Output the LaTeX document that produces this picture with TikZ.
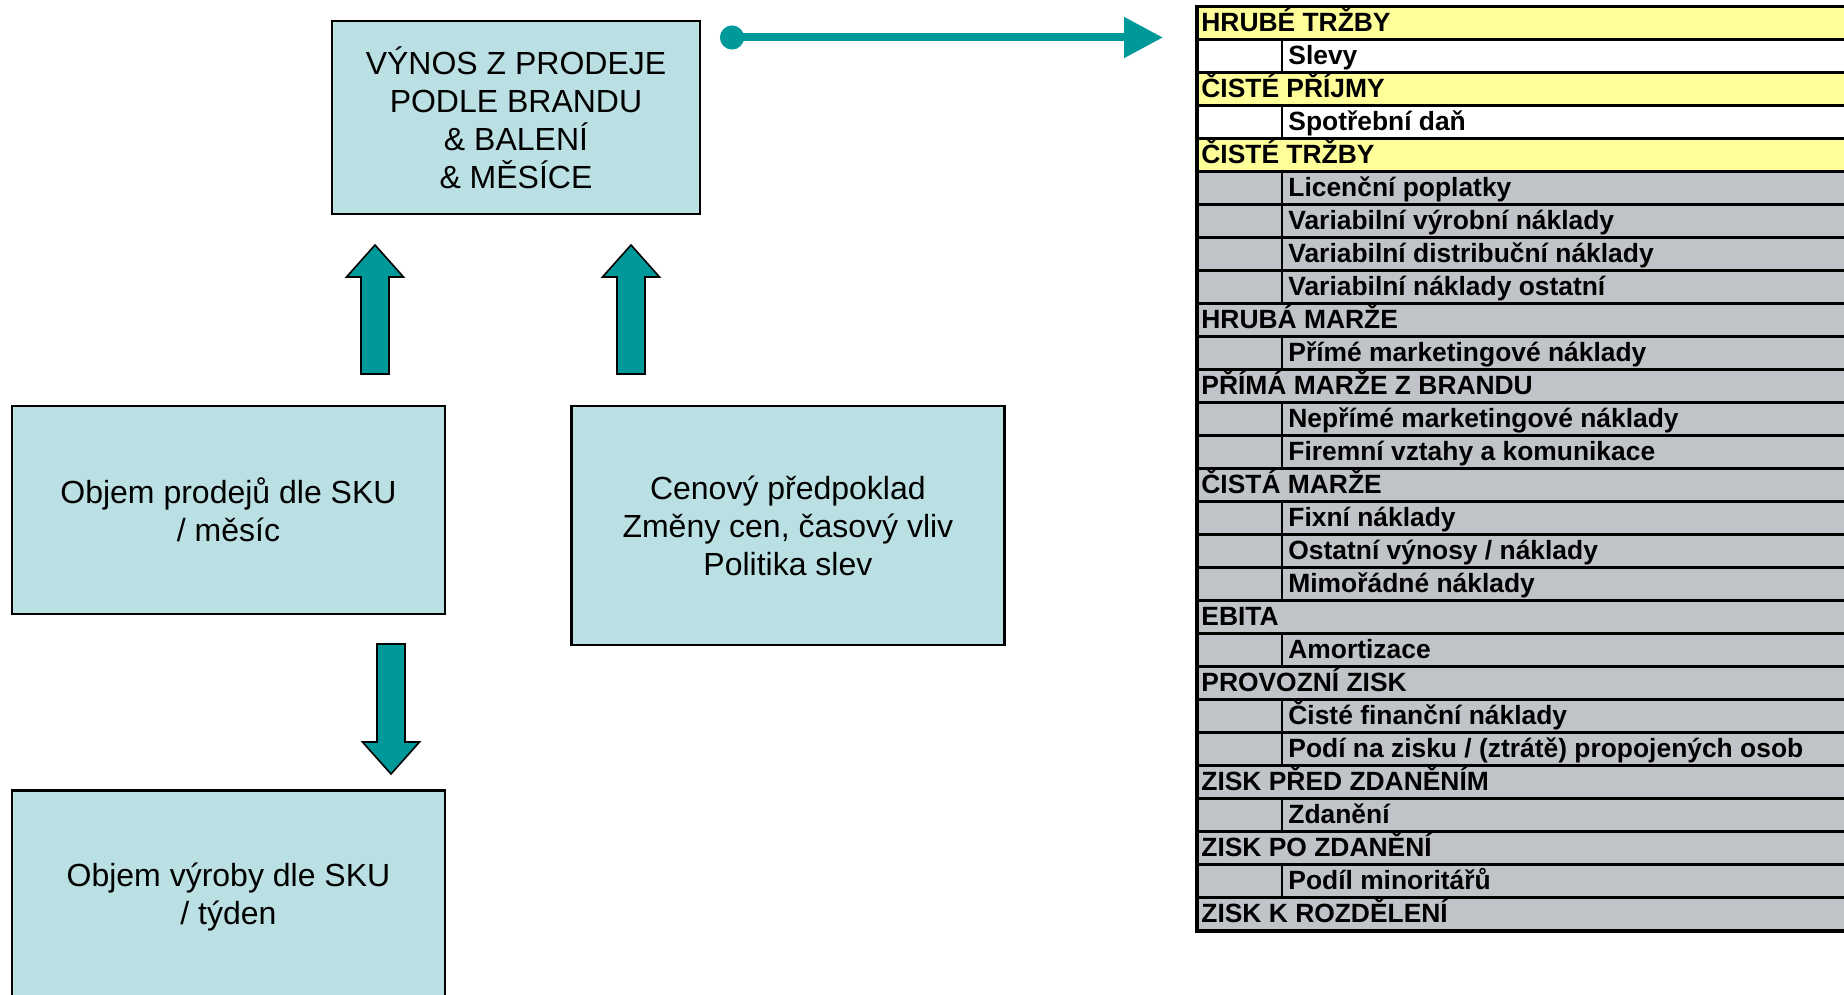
\documentclass[tikz,border=0pt]{standalone}
\usepackage{fontspec}
\setmainfont{Liberation Sans}
\usetikzlibrary{positioning,arrows.meta}

\definecolor{boxfill}{RGB}{187,224,227}
\definecolor{arrteal}{RGB}{0,153,153}
\definecolor{rowyel}{RGB}{255,255,153}
\definecolor{rowgry}{RGB}{192,195,199}

% block arrow: x, tail y, tip y
\newcommand{\blockarr}[3]{%
  \pgfmathsetmacro{\hb}{#3+32*sign(#2-#3)}
  \draw[blockarrow] (#1-14,#2) -- (#1-14,\hb) -- (#1-28.5,\hb) -- (#1,#3)
    -- (#1+28.5,\hb) -- (#1+14,\hb) -- (#1+14,#2) -- cycle;}

\begin{document}
\begin{tikzpicture}[
                x=0.5pt, y=-0.5pt,
                infobox/.style={draw=black,line width=1.2pt,fill=boxfill,align=center,
                  inner sep=0pt,font=\fontsize{16pt}{19pt}\selectfont},
                blockarrow/.style={draw=black,line width=0.8pt,fill=arrteal},
                flowline/.style={arrteal,line width=4pt,
                  {Circle[length=12pt]}-{Triangle[length=19.5pt,width=19.5pt]}},
                rowtext/.style={anchor=base west,inner sep=0pt,
                  font=\fontsize{13.2pt}{15pt}\selectfont\bfseries},
                tabline/.style={line width=1.6pt},
                tabsep/.style={line width=1.3pt}
            ]
                \useasboundingbox (0,0) rectangle (1844,995);

                % boxes
                \node (vynos) [infobox,minimum width=184pt,minimum height=96.5pt] at (516,117.5)
                    {VÝNOS Z PRODEJE\\PODLE BRANDU\\\& BALENÍ\\\& MĚSÍCE};
                \node (prodej) [infobox,minimum width=216.5pt,minimum height=104pt] at (228.5,510)
                    {Objem prodejů dle SKU\\/ měsíc};
                \node (cena) [infobox,minimum width=216.5pt,minimum height=119.5pt,
                    right=62pt of prodej.north east,anchor=north west]
                    {Cenový předpoklad\\Změny cen, časový vliv\\Politika slev};
                \node (vyroba) [infobox,minimum width=216.5pt,minimum height=107pt,below=87pt of prodej]
                    {Objem výroby dle SKU\\/ týden};

                % arrows
                \blockarr{375}{374}{245}
                \blockarr{631}{374}{245}
                \blockarr{391}{644}{774}
                \coordinate (dot) at (720,37.5);
                \coordinate (tab) at (1163,37.5);
                \draw[flowline] (dot) -- (tab);

                % table
                \foreach \lbl/\kind/\col [count=\i from 0] in {
                    HRUBÉ TRŽBY/0/rowyel, Slevy/1/white, ČISTÉ PŘÍJMY/0/rowyel,
                    Spotřební daň/1/white, ČISTÉ TRŽBY/0/rowyel,
                    Licenční poplatky/1/rowgry, Variabilní výrobní náklady/1/rowgry,
                    Variabilní distribuční náklady/1/rowgry, Variabilní náklady ostatní/1/rowgry,
                    HRUBÁ MARŽE/0/rowgry, Přímé marketingové náklady/1/rowgry,
                    PŘÍMÁ MARŽE Z BRANDU/0/rowgry, Nepřímé marketingové náklady/1/rowgry,
                    Firemní vztahy a komunikace/1/rowgry, ČISTÁ MARŽE/0/rowgry,
                    Fixní náklady/1/rowgry, {Ostatní výnosy / náklady}/1/rowgry,
                    Mimořádné náklady/1/rowgry, EBITA/0/rowgry, Amortizace/1/rowgry,
                    PROVOZNÍ ZISK/0/rowgry, Čisté finanční náklady/1/rowgry,
                    {Podí na zisku / (ztrátě) propojených osob}/1/rowgry,
                    ZISK PŘED ZDANĚNÍM/0/rowgry, Zdanění/1/rowgry, ZISK PO ZDANĚNÍ/0/rowgry,
                    Podíl minoritářů/1/rowgry, ZISK K ROZDĚLENÍ/0/rowgry}
                {
                    \pgfmathsetmacro{\ya}{6.5+33*\i}
                    \pgfmathsetmacro{\yb}{\ya+33}
                    \fill[\col] (1197,\ya) rectangle (1860,\yb);
                    \ifnum\kind=1 \draw[tabsep] (1282,\ya) -- (1282,\yb); \fi
                    \node[rowtext] (row\i) at ({1201+87*\kind},\yb-8) {\lbl};
                }
                \foreach \i in {1,...,27}
                    \draw[tabline] (1197,6.5+33*\i) -- (1860,6.5+33*\i);
                \draw[line width=1.8pt] (1860,6.5) -- (1197,6.5) -- (1197,931) -- (1860,931);
            \end{tikzpicture}
\end{document}
